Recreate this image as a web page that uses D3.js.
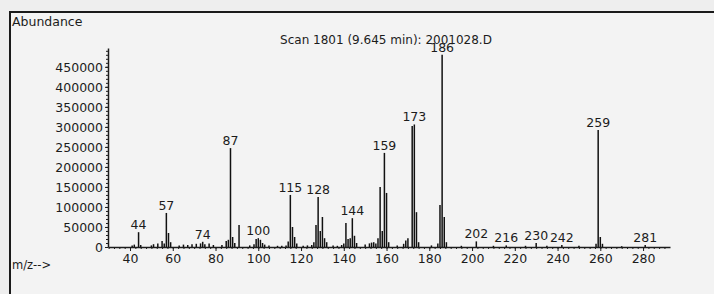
<!DOCTYPE html>
<html>
<head>
<meta charset="utf-8">
<script src="https://cdn.jsdelivr.net/npm/d3@7"></script>
<style>
  body { margin: 0; background: #eeeeee; }
  svg { display: block; }
  text { font-family: "DejaVu Sans", Verdana, sans-serif; fill: #1c1c1c; }
  .axis path, .axis line { stroke: #1c1c1c; }
</style>
</head>
<body>
<div id="chart"></div>
<script>
// spectrum peaks (m/z and abundance)
var mz = [41, 42, 44, 45, 50, 51, 53, 55, 56, 57, 58, 59, 63, 65, 67, 69, 71, 73, 74, 75, 77, 79,
  83, 85, 86, 87, 88, 89, 91, 96, 98, 99, 100, 101, 102, 103, 105, 109, 111, 113,
  114, 115, 116, 117, 118, 121, 123, 125, 126, 127, 128, 129, 130, 131, 132, 135, 137, 139,
  140, 141, 142, 143, 144, 145, 146, 150, 152, 153, 154, 155, 156, 157, 158, 159, 160, 161,
  165, 168, 169, 170, 172, 173, 174, 175, 181, 184, 185, 186, 187, 188,
  195, 202, 210, 216, 225, 230, 235, 242, 250, 258, 259, 260, 261, 270, 281];
var abundance = [4000, 6000, 37000, 5000, 4000, 7000, 9000, 15000, 9000, 85000, 35000, 12000, 4000, 6000, 5000, 7000, 8000, 9000, 13000, 7000, 9000, 5000,
  5000, 15000, 18000, 247000, 25000, 10000, 55000, 4000, 7000, 20000, 22000, 18000, 10000, 6000, 4000, 3000, 3000, 4000,
  14000, 130000, 50000, 25000, 9000, 3000, 4000, 5000, 12000, 55000, 125000, 40000, 75000, 22000, 12000, 4000, 3000, 5000,
  9000, 60000, 20000, 22000, 72000, 28000, 10000, 6000, 9000, 11000, 12000, 9000, 22000, 150000, 40000, 235000, 135000, 12000,
  4000, 8000, 16000, 22000, 302000, 306000, 87000, 12000, 4000, 9000, 105000, 480000, 75000, 12000,
  3000, 14000, 3000, 4000, 3000, 10000, 3000, 5000, 3000, 8000, 292000, 25000, 8000, 2000, 5000];
var labeledMz = [44, 57, 74, 87, 100, 115, 128, 144, 159, 173, 186, 202, 216, 230, 242, 259, 281];
var xTicks = [40, 60, 80, 100, 120, 140, 160, 180, 200, 220, 240, 260, 280];
var yTicks = [0, 50000, 100000, 150000, 200000, 250000, 300000, 350000, 400000, 450000];
var title = "Scan 1801 (9.645 min): 2001028.D";

var W = 714, H = 294;

var svg = d3.select("#chart").append("svg")
    .attr("width", W)
    .attr("height", H);

svg.append("rect")
    .attr("x", 11).attr("y", 13)
    .attr("width", W - 11).attr("height", H - 13)
    .attr("fill", "#f3f3f3");

// window frame (left and top edges)
svg.append("path")
    .attr("d", "M10,294 V12 H714")
    .attr("fill", "none")
    .attr("stroke", "#1a1a1a")
    .attr("stroke-width", 2);

var x = d3.scaleLinear().domain([29.7, 292.6]).range([108, 670]);
var y = d3.scaleLinear().domain([0, 497000]).range([247, 48]);

// y axis: minor ticks then major labels
svg.append("g")
    .attr("class", "axis")
    .attr("transform", "translate(108,0)")
    .call(d3.axisLeft(y).tickValues(d3.range(0, 497000, 10000)).tickSize(2).tickFormat("").tickSizeOuter(0))
    .call(function(g) { g.select(".domain").attr("stroke-width", 1.5); });

svg.append("g")
    .attr("class", "axis")
    .attr("transform", "translate(108,0)")
    .call(d3.axisLeft(y).tickValues(yTicks).tickSize(3).tickPadding(2).tickFormat(d3.format("d")).tickSizeOuter(0))
    .call(function(g) {
      g.select(".domain").remove();
      g.selectAll("text").style("font-size", "12.5px").attr("dy", "0.36em");
    });

// x axis
svg.append("g")
    .attr("class", "axis")
    .attr("transform", "translate(0,247)")
    .call(d3.axisBottom(x).tickValues(d3.range(30, 292, 2.5)).tickSize(2).tickFormat("").tickSizeOuter(0))
    .call(function(g) { g.select(".domain").attr("stroke-width", 1.5); });

svg.append("g")
    .attr("class", "axis")
    .attr("transform", "translate(0,247)")
    .call(d3.axisBottom(x).tickValues(xTicks).tickSize(4).tickPadding(3).tickSizeOuter(0))
    .call(function(g) {
      g.select(".domain").remove();
      g.selectAll("text").style("font-size", "12.5px");
    });

// peaks
svg.selectAll(".peak")
    .data(mz)
  .enter().append("line")
    .attr("class", "peak")
    .attr("x1", function(d) { return x(d); })
    .attr("x2", function(d) { return x(d); })
    .attr("y1", y(0))
    .attr("y2", function(d, i) { return y(abundance[i]); })
    .attr("stroke", "#111")
    .attr("stroke-width", 1.5);

svg.selectAll(".plabel")
    .data(labeledMz)
  .enter().append("text")
    .attr("class", "plabel")
    .attr("x", function(d) { return x(d); })
    .attr("y", function(d) { return y(abundance[mz.indexOf(d)]) - 3; })
    .attr("text-anchor", "middle")
    .style("font-size", "12.5px")
    .text(function(d) { return d; });

svg.append("text")
    .attr("x", 386).attr("y", 44)
    .attr("text-anchor", "middle")
    .style("font-size", "12px")
    .text(title);

svg.append("text")
    .attr("x", 12).attr("y", 26)
    .style("font-size", "12.5px")
    .text("Abundance");

svg.append("text")
    .attr("x", 12).attr("y", 269)
    .style("font-size", "11.5px")
    .text("m/z-->");
</script>
</body>
</html>
